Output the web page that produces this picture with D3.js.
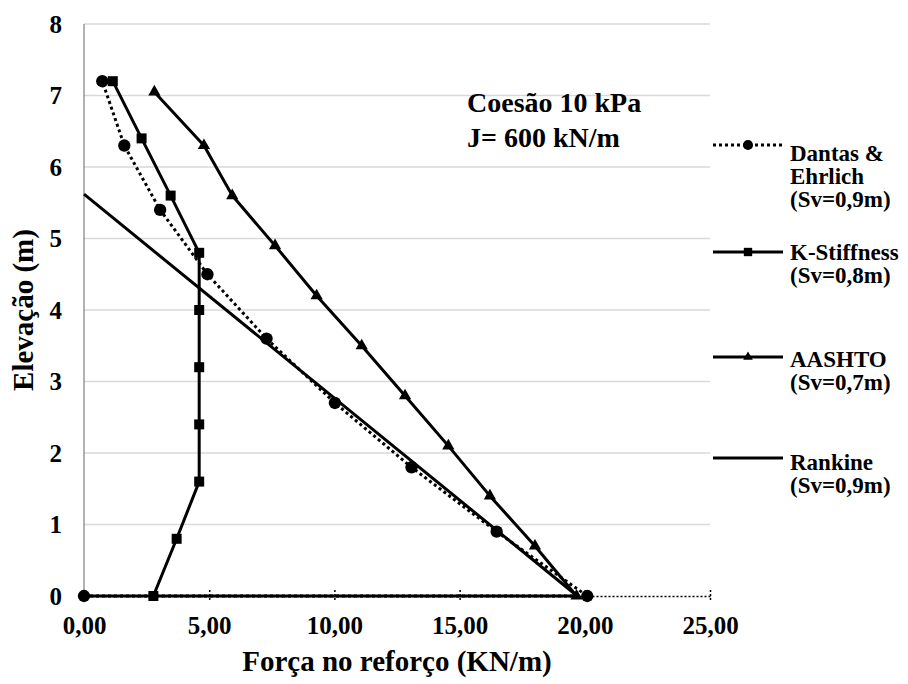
<!DOCTYPE html>
<html><head><meta charset="utf-8">
<script src="https://cdn.jsdelivr.net/npm/d3@7"></script>
<style>body{margin:0;background:#fff}svg{display:block}text{font-family:"Liberation Serif","Tinos","Times New Roman","Nimbus Roman","DejaVu Serif",serif;font-weight:bold;fill:#000}</style>
</head><body><svg id="c" width="908" height="684"></svg>
<script>
// ---- data ----
const dantasForce = [0, 20.1, 16.48, 13.08, 10.02, 7.29, 4.93, 3.04, 1.61, 0.73];
const dantasElev  = [0, 0, 0.9, 1.8, 2.7, 3.6, 4.5, 5.4, 6.3, 7.2];
const kStiffForce = [2.77, 3.70, 4.60, 4.60, 4.60, 4.60, 4.60, 3.46, 2.30, 1.15];
const kStiffElev  = [0, 0.8, 1.6, 2.4, 3.2, 4.0, 4.8, 5.6, 6.4, 7.2];
const aashtoForce = [19.67, 18.01, 16.21, 14.55, 12.82, 11.09, 9.29, 7.63, 5.92, 4.79, 2.81];
const aashtoElev  = [0, 0.7, 1.4, 2.1, 2.8, 3.5, 4.2, 4.9, 5.6, 6.3, 7.05];
const rankineForce = [0, 19.7, 0];
const rankineElev  = [0, 0, 5.62];
const xTicks = [0, 5, 10, 15, 20, 25];
const yTicks = [0, 1, 2, 3, 4, 5, 6, 7, 8];
const seriesNames = ["dantas", "kstiff", "aashto", "rankine"];
const legendLabels = [["Dantas &", "Ehrlich", "(Sv=0,9m)"], ["K-Stiffness", "(Sv=0,8m)"], ["AASHTO", "(Sv=0,7m)"], ["Rankine", "(Sv=0,9m)"]];
const annotation = ["Coesão 10 kPa", "J= 600 kN/m"];
const xTitle = "Força no reforço (KN/m)";
const yTitle = "Elevação (m)";

// ---- layout ----
const FONT = '"Liberation Serif","Tinos","Times New Roman","Nimbus Roman","DejaVu Serif",serif';
const svg = d3.select("#c");
const L = 84, R = 710, T = 24, B = 596;
const x = d3.scaleLinear().domain([0, 25]).range([L, R]);
const y = d3.scaleLinear().domain([0, 8]).range([B, T]);

// gridlines
svg.append("g").selectAll("line").data(yTicks.filter(d => d > 0)).join("line")
  .attr("x1", L).attr("x2", R).attr("y1", d => y(d)).attr("y2", d => y(d))
  .attr("stroke", "#d9d9d9").attr("stroke-width", 1.5);

// y axis line
svg.append("line").attr("x1", L).attr("x2", L).attr("y1", T).attr("y2", B)
  .attr("stroke", "#666").attr("stroke-width", 1);

// x axis dotted with cross ticks
const xAxis = d3.axisBottom(x).tickValues(xTicks).tickFormat(d => d3.format(".2f")(d).replace(".", ","))
  .tickSizeInner(6).tickSizeOuter(0).tickPadding(14);
const gx = svg.append("g").attr("transform", `translate(0,${B})`).call(xAxis);
gx.attr("font-family", FONT);
gx.select(".domain").attr("stroke", "#000").attr("stroke-width", 1.5).attr("stroke-dasharray", "2 2");
gx.selectAll(".tick line").attr("y1", -6).attr("y2", 6).attr("stroke", "#000").attr("stroke-width", 1.5).attr("stroke-dasharray", "2 2");
gx.selectAll(".tick text").attr("font-size", 25).attr("font-family", FONT).attr("font-weight", "bold").attr("fill", "#000");

// y axis labels
const yAxis = d3.axisLeft(y).tickValues(yTicks).tickFormat(d3.format("d")).tickSize(0).tickPadding(22);
const gy = svg.append("g").attr("transform", `translate(${L},0)`).call(yAxis);
gy.attr("font-family", FONT);
gy.select(".domain").remove();
gy.selectAll(".tick text").attr("font-size", 25).attr("font-family", FONT).attr("font-weight", "bold").attr("fill", "#000");

// series
const zip = (a, b) => a.map((v, i) => [v, b[i]]);
const data = {
  dantas: zip(dantasForce, dantasElev),
  kstiff: zip(kStiffForce, kStiffElev),
  aashto: zip(aashtoForce, aashtoElev),
  rankine: zip(rankineForce, rankineElev)
};
const line = d3.line().x(d => x(d[0])).y(d => y(d[1]));
const styles = {
  dantas: {dash: "3 3", width: 3, marker: d3.symbolCircle, msize: 120},
  kstiff: {dash: null, width: 3, marker: d3.symbolSquare, msize: 100},
  aashto: {dash: null, width: 3, marker: d3.symbolTriangle, msize: 65},
  rankine: {dash: null, width: 3, marker: null, msize: 0}
};
seriesNames.forEach(n => {
  const s = styles[n];
  svg.append("path").datum(data[n]).attr("d", line).attr("fill", "none")
    .attr("stroke", "#000").attr("stroke-width", s.width).attr("stroke-dasharray", s.dash)
    .attr("stroke-linejoin", "round");
  if (s.marker) {
    svg.append("g").selectAll("path").data(data[n]).join("path")
      .attr("d", d3.symbol().type(s.marker).size(s.msize))
      .attr("transform", d => `translate(${x(d[0])},${y(d[1])})`)
      .attr("fill", "#000");
  }
});

// annotation
annotation.forEach((t, i) => {
  svg.append("text").attr("x", 467).attr("y", 112 + i * 35).attr("font-size", 28).attr("font-family", FONT).text(t);
});

// legend
const legBase = [161, 260, 367, 470];
const legSym = [145, 252, 357, 458];
const legMsize = [80, 70, 40, 0];
seriesNames.forEach((n, i) => {
  const s = styles[n];
  const g = svg.append("g");
  g.append("line").attr("x1", 713).attr("x2", 783).attr("y1", legSym[i]).attr("y2", legSym[i])
    .attr("stroke", "#000").attr("stroke-width", s.width).attr("stroke-dasharray", s.dash);
  if (s.marker) g.append("path").attr("d", d3.symbol().type(s.marker).size(legMsize[i]))
    .attr("transform", `translate(748,${legSym[i]})`).attr("fill", "#000");
  legendLabels[i].forEach((t, j) => {
    g.append("text").attr("x", 790).attr("y", legBase[i] + j * 23).attr("font-size", 23).attr("font-family", FONT).text(t);
  });
});

// titles
svg.append("text").attr("x", (L + R) / 2).attr("y", 671).attr("text-anchor", "middle").attr("font-size", 29).attr("font-family", FONT).text(xTitle);
svg.append("text").attr("transform", `translate(33,${(T + B) / 2}) rotate(-90)`).attr("text-anchor", "middle").attr("font-size", 29).attr("font-family", FONT).text(yTitle);
</script></body></html>
